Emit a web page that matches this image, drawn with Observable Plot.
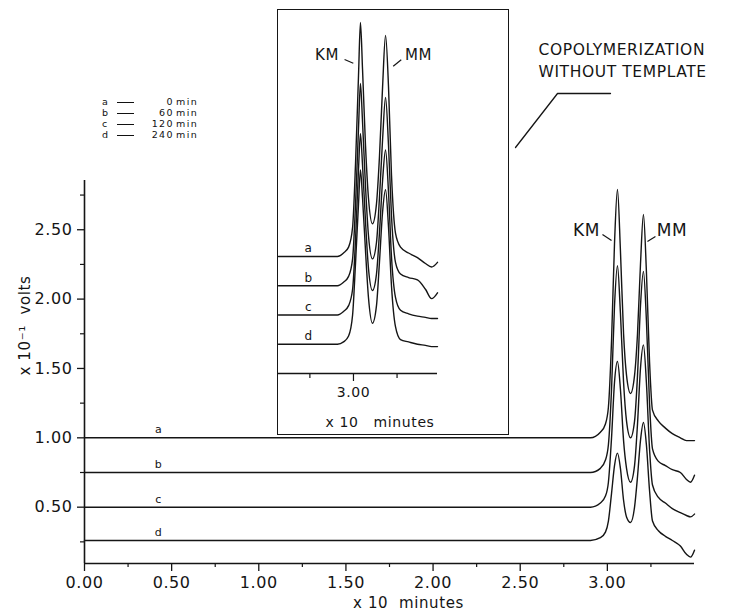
<!DOCTYPE html>
<html><head><meta charset="utf-8">
<script src="https://cdn.jsdelivr.net/npm/d3@7"></script>
<script src="https://cdn.jsdelivr.net/npm/@observablehq/plot@0.6"></script>
<style>
body{margin:0;background:#fff;}
#wrap{position:relative;width:734px;height:614px;overflow:hidden;font-family:"DejaVu Sans",sans-serif;color:#111;}
#main{position:absolute;left:0;top:0;}
#inset{position:absolute;left:276.5px;top:8.5px;width:232px;height:426px;border:1.5px solid #161616;box-sizing:border-box;background:#fff;}
#wrap svg text{letter-spacing:0.6px;}
.lg{position:absolute;font-size:9.5px;letter-spacing:1.4px;line-height:11px;height:11px;white-space:nowrap;}
.lgdash{position:absolute;height:0;border-top:1.2px solid #111;}
</style></head><body>
<div id="wrap"><div id="main"></div><div id="inset"></div><div id="legend"></div></div>
<script>
// ---- data ----
const seriesKeys = ["a", "b", "c", "d"];
const reactionMinutes = ["0", "60", "120", "240"];
const mainBaselines = [1.00, 0.75, 0.50, 0.26];
const insetBaselines = [1.00, 0.75, 0.50, 0.25];

// main chromatogram (x 10 minutes, x 10^-1 volts)
const mainTime = [0, 2.903, 2.960, 2.989, 3.006, 3.024, 3.041, 3.058, 3.075, 3.093, 3.110, 3.133, 3.156, 3.173, 3.190, 3.207, 3.224, 3.242, 3.259, 3.293, 3.333, 3.373, 3.419, 3.454, 3.477, 3.500];
const mainA = [1.00, 1.00, 1.04, 1.10, 1.22, 1.70, 2.40, 2.79, 2.35, 1.75, 1.45, 1.32, 1.45, 1.75, 2.25, 2.61, 2.20, 1.55, 1.20, 1.12, 1.07, 1.03, 1.00, 0.98, 0.98, 0.98];
const mainB = [0.75, 0.75, 0.78, 0.84, 0.95, 1.35, 1.95, 2.24, 1.90, 1.40, 1.12, 1.00, 1.12, 1.45, 1.95, 2.20, 1.85, 1.25, 0.92, 0.83, 0.80, 0.77, 0.75, 0.70, 0.68, 0.73];
const mainC = [0.50, 0.50, 0.53, 0.58, 0.68, 1.00, 1.40, 1.55, 1.35, 0.98, 0.78, 0.68, 0.80, 1.10, 1.50, 1.67, 1.40, 0.92, 0.66, 0.57, 0.53, 0.49, 0.46, 0.44, 0.43, 0.45];
const mainD = [0.26, 0.26, 0.28, 0.32, 0.40, 0.60, 0.80, 0.89, 0.78, 0.55, 0.43, 0.39, 0.50, 0.72, 0.98, 1.11, 0.95, 0.62, 0.40, 0.33, 0.29, 0.26, 0.22, 0.16, 0.14, 0.19];

// inset (enlarged peak region)
const insetTime = [2.570, 2.908, 2.943, 2.972, 2.995, 3.012, 3.029, 3.040, 3.052, 3.069, 3.086, 3.109, 3.132, 3.149, 3.167, 3.184, 3.201, 3.218, 3.241, 3.270, 3.316, 3.367, 3.413, 3.448, 3.482];
const insetA = [1.00, 1.00, 1.03, 1.08, 1.25, 1.80, 2.55, 3.00, 2.60, 1.95, 1.50, 1.28, 1.45, 1.85, 2.45, 2.89, 2.45, 1.70, 1.20, 1.08, 1.03, 0.99, 0.94, 0.91, 0.95];
const insetB = [0.75, 0.75, 0.78, 0.83, 0.98, 1.45, 2.10, 2.48, 2.15, 1.60, 1.18, 0.98, 1.12, 1.50, 2.00, 2.36, 1.95, 1.35, 0.95, 0.85, 0.82, 0.80, 0.72, 0.64, 0.69];
const insetC = [0.50, 0.50, 0.53, 0.58, 0.72, 1.15, 1.75, 2.05, 1.78, 1.30, 0.90, 0.71, 0.85, 1.20, 1.65, 1.91, 1.55, 1.00, 0.65, 0.54, 0.51, 0.49, 0.48, 0.47, 0.47];
const insetD = [0.25, 0.25, 0.27, 0.32, 0.50, 0.95, 1.45, 1.74, 1.50, 1.05, 0.65, 0.43, 0.58, 0.95, 1.38, 1.57, 1.25, 0.75, 0.40, 0.29, 0.27, 0.25, 0.24, 0.23, 0.23];

const xMajorTicks = [0, 0.5, 1.0, 1.5, 2.0, 2.5, 3.0];
const xMinorTicks = [0.25, 0.75, 1.25, 1.75, 2.25, 2.75, 3.25];
const yMajorTicks = [0.5, 1.0, 1.5, 2.0, 2.5];
const yMinorTicks = [0.25, 0.75, 1.25, 1.75, 2.25, 2.75];
const insetMajorTicks = [3.0];
const insetMinorTicks = [2.75, 3.25];

const xTitle = "x 10\u00a0\u00a0minutes";
const yTitle = "x 10\u207b\u00b9\u00a0\u00a0volts";
const insetXTitle = "x 10\u00a0\u00a0\u00a0minutes";
const titleLines = ["COPOLYMERIZATION", "WITHOUT TEMPLATE"];
const peakNames = ["KM", "MM"];

// ---- build tables ----
const mainSeries = [mainA, mainB, mainC, mainD];
const insetSeries = [insetA, insetB, insetC, insetD];
const mainRows = seriesKeys.flatMap((k, i) => mainTime.map((t, j) => ({series: k, t, v: mainSeries[i][j]})));
const insetRows = seriesKeys.flatMap((k, i) => insetTime.map((t, j) => ({series: k, t, v: insetSeries[i][j]})));
const fmt = d3.format(".2f");
const ink = "#151515";

const yMin = 0.094;
const main = Plot.plot({
  width: 734, height: 614,
  marginLeft: 84, marginRight: 40, marginTop: 180, marginBottom: 51,
  x: {domain: [0, 3.5]},
  y: {domain: [yMin, 2.855]},
  style: {fontFamily: "DejaVu Sans", fontSize: "16px", color: ink, background: "transparent", overflow: "visible"},
  marks: [
    Plot.ruleX([0], {stroke: ink, strokeWidth: 1.6}),
    Plot.ruleY([yMin], {stroke: ink, strokeWidth: 1.6}),
    Plot.axisY({ticks: yMajorTicks, tickSize: 7, tickPadding: 5, tickFormat: fmt, label: null, strokeWidth: 1.3}),
    Plot.axisY({ticks: yMinorTicks, tickSize: 4, tickFormat: () => "", label: null, strokeWidth: 1.2}),
    Plot.axisX({ticks: xMajorTicks, tickSize: 8, tickPadding: 5, tickFormat: fmt, label: null, strokeWidth: 1.3}),
    Plot.axisX({ticks: xMinorTicks, tickSize: 4, tickFormat: () => "", label: null, strokeWidth: 1.2}),
    Plot.line(mainRows, {x: "t", y: "v", z: "series", curve: "monotone-x", stroke: ink, strokeWidth: 1.4}),
    Plot.text(seriesKeys, {x: () => 0.425, y: (d, i) => mainBaselines[i], text: d => d, dy: -8, fontSize: 11, fill: ink}),
    Plot.text(peakNames, {x: (d, i) => [2.880, 3.371][i], y: () => 2.495, text: d => d, fontSize: 17, fill: ink}),
    Plot.link([0, 1], {x1: i => [2.972, 3.230][i], y1: i => [2.466, 2.415][i], x2: i => [3.024, 3.276][i], y2: i => [2.423, 2.451][i], stroke: ink, strokeWidth: 1.2}),
    Plot.text(titleLines, {x: () => 2.605, y: (d, i) => [3.792, 3.634][i], text: d => d, textAnchor: "start", fontSize: 15.5, fill: ink}),
    Plot.line([[2.473, 3.093], [2.714, 3.482], [3.018, 3.482]], {stroke: ink, strokeWidth: 1.3}),
    Plot.text([yTitle], {frameAnchor: "left", dx: -59, dy: 3.5, rotate: -90, lineAnchor: "middle", fontSize: 15, fill: ink}),
    Plot.text([xTitle], {frameAnchor: "bottom", lineAnchor: "middle", dx: 19, dy: 40, fontSize: 15, fill: ink})
  ]
});
document.getElementById("main").append(main);

const inset = Plot.plot({
  width: 229, height: 423,
  marginLeft: 0, marginRight: 70, marginTop: 12, marginBottom: 60,
  x: {domain: [2.570, 3.482]},
  y: {domain: [0, 3.0], axis: null},
  style: {fontFamily: "DejaVu Sans", fontSize: "14px", color: ink, background: "transparent", overflow: "visible"},
  marks: [
    Plot.ruleY([0], {stroke: ink, strokeWidth: 1.5}),
    Plot.axisX({ticks: insetMajorTicks, tickSize: 8, tickPadding: 6, tickFormat: fmt, label: null, strokeWidth: 1.2}),
    Plot.axisX({ticks: insetMinorTicks, tickSize: 5, tickFormat: () => "", label: null, strokeWidth: 1.2}),
    Plot.line(insetRows, {x: "t", y: "v", z: "series", curve: "monotone-x", stroke: ink, strokeWidth: 1.4}),
    Plot.text(seriesKeys, {x: () => 2.742, y: (d, i) => insetBaselines[i], text: d => d, dy: -8, fontSize: 12, fill: ink}),
    Plot.text(peakNames, {x: (d, i) => [2.848, 3.373][i], y: () => 2.72, text: d => d, fontSize: 15, fill: ink}),
    Plot.link([0, 1], {x1: i => [2.949, 3.228][i], y1: i => [2.684, 2.626][i], x2: i => [2.999, 3.274][i], y2: i => [2.652, 2.681][i], stroke: ink, strokeWidth: 1.2}),
    Plot.text([insetXTitle], {frameAnchor: "bottom", lineAnchor: "middle", dx: 22, dy: 49, fontSize: 14, fill: ink})
  ]
});
document.getElementById("inset").append(inset);

// legend (top-left)
const lg = document.getElementById("legend");
seriesKeys.forEach((k, i) => {
  const top = 96 + i * 11;
  const key = document.createElement("div");
  key.className = "lg"; key.style.left = "102px"; key.style.top = top + "px"; key.textContent = k;
  const dash = document.createElement("div");
  dash.className = "lgdash"; dash.style.left = "117px"; dash.style.width = "17px"; dash.style.top = (top + 6) + "px";
  const num = document.createElement("div");
  num.className = "lg"; num.style.right = (734 - 174) + "px"; num.style.top = top + "px"; num.textContent = reactionMinutes[i];
  const unit = document.createElement("div");
  unit.className = "lg"; unit.style.left = "176px"; unit.style.top = top + "px"; unit.textContent = "min";
  lg.append(key, dash, num, unit);
});
</script>
</body></html>
